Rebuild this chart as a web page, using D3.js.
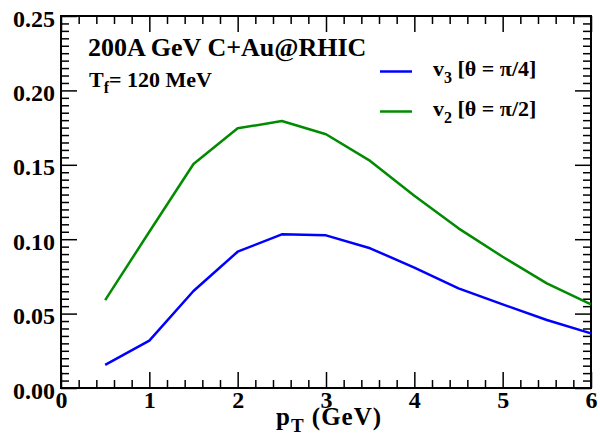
<!DOCTYPE html>
<html>
<head>
<meta charset="utf-8">
<script src="https://cdn.jsdelivr.net/npm/d3@7"></script>
<style>
  html, body { margin: 0; padding: 0; background: #fff; }
  svg { display: block; }
  text { font-family: "Liberation Serif", "Times New Roman", serif; font-weight: bold; fill: #000; }
</style>
</head>
<body>
<svg id="chart" width="600" height="445"></svg>
<script>
// ---- data ----
const pT = [0.5, 1.0, 1.5, 2.0, 2.5, 3.0, 3.5, 4.0, 4.5, 5.0, 5.5, 6.0];
const v3 = [0.0155, 0.0318, 0.0652, 0.0916, 0.1033, 0.1026, 0.0939, 0.0809, 0.0670, 0.0562, 0.0457, 0.0367];
const v2 = [0.0591, 0.1050, 0.1505, 0.1745, 0.1794, 0.1705, 0.1526, 0.1292, 0.1073, 0.0882, 0.0703, 0.0562];
const xTicks = [0, 1, 2, 3, 4, 5, 6];
const yTicks = [0.00, 0.05, 0.10, 0.15, 0.20, 0.25];
const seriesNames = ["v3", "v2"];
const legendLabels = [["v", "3", " [\u03b8 = \u03c0/4]"], ["v", "2", " [\u03b8 = \u03c0/2]"]];
const xTitle = ["p", "T", " (GeV)"];
const title1 = "200A GeV C+Au@RHIC";
const title2 = ["T", "f", "= 120 MeV"];

// ---- layout ----
const L = 61, R = 591, T = 16, B = 388;
const svg = d3.select("#chart");
const x = d3.scaleLinear().domain([0, 6]).range([L, R]);
const y = d3.scaleLinear().domain([0, 0.25]).range([B, T]);

const xMinor = d3.range(0, 6.0001, 0.2).map(v => +v.toFixed(2)).filter(v => !xTicks.includes(v));
const yMinor = d3.range(0, 0.25001, 0.005).map(v => +v.toFixed(3)).filter(v => !yTicks.some(t => Math.abs(t - v) < 1e-9));

function styleAxis(g) {
  g.select(".domain").remove();
  g.selectAll("line").attr("stroke", "#000").attr("stroke-width", 1.5);
}

// bottom axis
svg.append("g").attr("transform", `translate(0,${B})`)
  .call(d3.axisBottom(x).tickValues(xTicks).tickSize(-16).tickPadding(3).tickFormat(d3.format("d")))
  .call(styleAxis)
  .call(g => g.selectAll("text").attr("font-size", 24).attr("fill", "#000"));
svg.append("g").attr("transform", `translate(0,${B})`)
  .call(d3.axisBottom(x).tickValues(xMinor).tickSize(-8).tickFormat(""))
  .call(styleAxis);
// top axis
svg.append("g").attr("transform", `translate(0,${T})`)
  .call(d3.axisTop(x).tickValues(xTicks).tickSize(-16).tickFormat(""))
  .call(styleAxis);
svg.append("g").attr("transform", `translate(0,${T})`)
  .call(d3.axisTop(x).tickValues(xMinor).tickSize(-8).tickFormat(""))
  .call(styleAxis);
// left axis
svg.append("g").attr("transform", `translate(${L},0)`)
  .call(d3.axisLeft(y).tickValues(yTicks).tickSize(-16).tickPadding(6).tickFormat(d3.format(".2f")))
  .call(styleAxis)
  .call(g => g.selectAll("text").attr("font-size", 24).attr("dy", "0.42em").attr("fill", "#000"));
svg.append("g").attr("transform", `translate(${L},0)`)
  .call(d3.axisLeft(y).tickValues(yMinor).tickSize(-8).tickFormat(""))
  .call(styleAxis);
// right axis
svg.append("g").attr("transform", `translate(${R},0)`)
  .call(d3.axisRight(y).tickValues(yTicks).tickSize(-16).tickFormat(""))
  .call(styleAxis);
svg.append("g").attr("transform", `translate(${R},0)`)
  .call(d3.axisRight(y).tickValues(yMinor).tickSize(-8).tickFormat(""))
  .call(styleAxis);

// frame
svg.append("rect").attr("x", L).attr("y", T).attr("width", R - L).attr("height", B - T)
  .attr("fill", "none").attr("stroke", "#000").attr("stroke-width", 2);

// lines
const colors = { v3: "#0000ff", v2: "#008b00" };
const seriesData = { v3: v3, v2: v2 };
const line = d3.line().x(d => x(d[0])).y(d => y(d[1]));
seriesNames.forEach(name => {
  svg.append("path")
    .datum(pT.map((p, i) => [p, seriesData[name][i]]))
    .attr("d", line)
    .attr("fill", "none")
    .attr("stroke", colors[name])
    .attr("stroke-width", 2.5)
    .attr("stroke-linejoin", "round");
});

// legend
seriesNames.forEach((name, i) => {
  const ly = 71.5 + i * 40;
  svg.append("line").attr("x1", 380).attr("x2", 412).attr("y1", ly).attr("y2", ly)
    .attr("stroke", colors[name]).attr("stroke-width", 2.5);
  const t = svg.append("text").attr("x", 433).attr("y", ly + 4).attr("font-size", 22);
  const parts = legendLabels[i];
  t.append("tspan").text(parts[0]);
  t.append("tspan").attr("font-size", 16).attr("dy", 7).text(parts[1]);
  t.append("tspan").attr("dy", -7).text(parts[2]);
});

// titles
svg.append("text").attr("x", 88).attr("y", 56).attr("font-size", 26).text(title1);
const t2 = svg.append("text").attr("x", 89).attr("y", 87).attr("font-size", 22);
t2.append("tspan").text(title2[0]);
t2.append("tspan").attr("font-size", 16).attr("dy", 6).text(title2[1]);
t2.append("tspan").attr("dy", -6).text(title2[2]);

// x axis title
const xt = svg.append("text").attr("x", 276).attr("y", 425).attr("font-size", 25)
  .attr("letter-spacing", 1);
xt.append("tspan").text(xTitle[0]);
xt.append("tspan").attr("font-size", 19).attr("dy", 7).text(xTitle[1]);
xt.append("tspan").attr("dy", -7).text(xTitle[2]);
</script>
</body>
</html>
